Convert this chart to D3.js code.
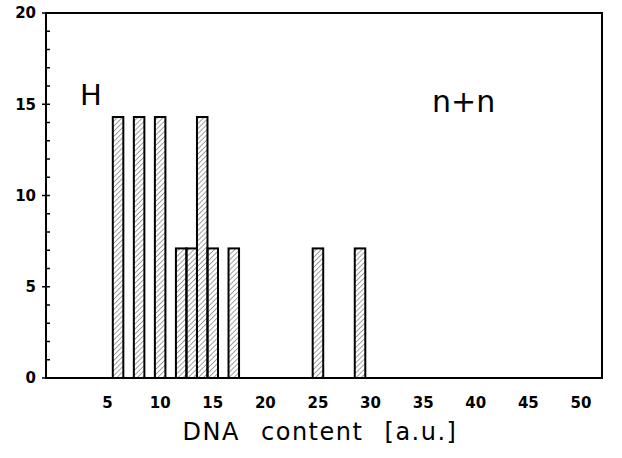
<!DOCTYPE html>
<html>
<head>
<meta charset="utf-8">
<script src="https://cdn.jsdelivr.net/npm/d3@7"></script>
<style>
  html, body { margin: 0; padding: 0; background: #fff; }
  svg { display: block; font-family: "DejaVu Sans", sans-serif; }
</style>
</head>
<body>
<div id="chart"></div>
<script>
// histogram: DNA content (a.u.) vs frequency (%)
const dnaContent = [6, 8, 10, 12, 13, 14, 15, 17, 25, 29];
const frequency = [14.3, 14.3, 14.3, 7.1, 7.1, 14.3, 7.1, 7.1, 7.1, 7.1];
const xTicks = [5, 10, 15, 20, 25, 30, 35, 40, 45, 50];
const yTicks = [0, 5, 10, 15, 20];
const yMinor = d3.range(0, 21, 1);

const width = 622, height = 458;
const plot = { left: 46, right: 602, top: 13, bottom: 378 };

const svg = d3.select("#chart").append("svg")
  .attr("width", width)
  .attr("height", height);

// hatch fill for the bars
const defs = svg.append("defs");
defs.append("pattern")
  .attr("id", "hatch")
  .attr("patternUnits", "userSpaceOnUse")
  .attr("width", 3.6)
  .attr("height", 3.6)
  .attr("patternTransform", "rotate(45)")
  .append("line")
  .attr("x1", 0).attr("y1", 0)
  .attr("x2", 0).attr("y2", 3.6)
  .attr("stroke", "#444")
  .attr("stroke-width", 1);

const x = d3.scaleLinear()
  .domain([-0.85, 52])
  .range([plot.left, plot.right]);

const y = d3.scaleLinear()
  .domain([0, 20])
  .range([plot.bottom, plot.top]);

const bars = dnaContent.map((d, i) => ({ x: d, v: frequency[i] }));

// bars
svg.append("g")
  .selectAll("rect")
  .data(bars)
  .join("rect")
  .attr("x", d => x(d.x - 0.5))
  .attr("y", d => y(d.v))
  .attr("width", d => x(d.x + 0.5) - x(d.x - 0.5))
  .attr("height", d => y(0) - y(d.v))
  .attr("fill", "url(#hatch)")
  .attr("stroke", "#000")
  .attr("stroke-width", 2);

// frame
svg.append("rect")
  .attr("x", plot.left)
  .attr("y", plot.top)
  .attr("width", plot.right - plot.left)
  .attr("height", plot.bottom - plot.top)
  .attr("fill", "none")
  .attr("stroke", "#000")
  .attr("stroke-width", 2);

// y ticks (minor inside, major longer)
svg.append("g")
  .selectAll("line")
  .data(yMinor)
  .join("line")
  .attr("x1", d => d % 5 === 0 ? plot.left - 4 : plot.left)
  .attr("x2", plot.left + 4)
  .attr("y1", d => y(d))
  .attr("y2", d => y(d))
  .attr("stroke", "#000")
  .attr("stroke-width", 1.5);

svg.append("g")
  .selectAll("text")
  .data(yTicks)
  .join("text")
  .attr("x", 36)
  .attr("y", d => y(d))
  .attr("dy", "0.36em")
  .attr("text-anchor", "end")
  .attr("font-size", 15)
  .attr("font-weight", 600)
  .text(d => d);

// x tick labels
svg.append("g")
  .selectAll("text")
  .data(xTicks)
  .join("text")
  .attr("x", d => x(d))
  .attr("y", 408)
  .attr("text-anchor", "middle")
  .attr("font-size", 15)
  .attr("font-weight", 600)
  .text(d => d);

// axis title
svg.append("text")
  .attr("x", 320)
  .attr("y", 440)
  .attr("text-anchor", "middle")
  .attr("font-size", 24)
  .style("letter-spacing", "1.5px")
  .style("word-spacing", "12px")
  .text("DNA content [a.u.]");

// panel labels
svg.append("text")
  .attr("x", 80)
  .attr("y", 105)
  .attr("font-size", 29)
  .attr("fill", "#000")
  .text("H");

svg.append("text")
  .attr("x", 432)
  .attr("y", 112)
  .attr("font-size", 30)
  .attr("fill", "#000")
  .text("n+n");
</script>
</body>
</html>
